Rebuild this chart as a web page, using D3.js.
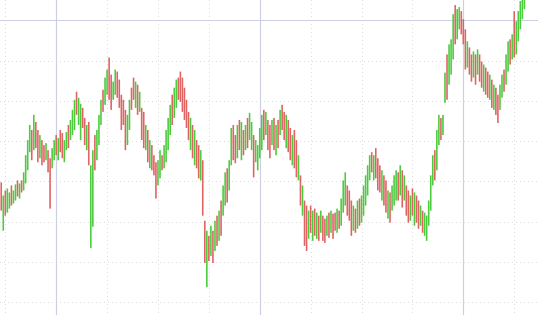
<!DOCTYPE html>
<html>
<head>
<meta charset="utf-8">
<script src="https://cdn.jsdelivr.net/npm/d3@7"></script>
<style>
  html, body { margin: 0; padding: 0; background: #fff; }
  svg { display: block; }
</style>
</head>
<body>
<svg id="chart"></svg>
<script>
// bar highs / lows, one per session
const highs = [
  1119,1106,1111,1113,1109,1116,1111,1117,1121,1118,
  1121,1129,1146,1161,1176,1171,1186,1179,1171,1166,
  1161,1156,1158,1151,1143,1153,1161,1166,1163,1171,
  1168,1161,1169,1176,1181,1191,1201,1209,1203,1197,
  1193,1183,1176,1179,1136,1151,1166,1171,1186,1201,
  1211,1223,1231,1243,1226,1219,1231,1229,1221,1206,
  1201,1191,1186,1201,1213,1223,1219,1216,1209,1193,
  1189,1176,1171,1161,1156,1146,1139,1141,1151,1146,
  1156,1171,1183,1196,1206,1213,1221,1223,1229,1223,
  1213,1201,1189,1183,1176,1171,1161,1156,1151,1141,
  1081,1071,1066,1076,1071,1081,1086,1091,1101,1116,
  1129,1133,1141,1173,1176,1166,1176,1181,1179,1171,
  1176,1183,1188,1179,1166,1161,1156,1173,1186,1191,
  1189,1181,1176,1181,1183,1176,1181,1191,1196,1189,
  1186,1181,1173,1166,1171,1161,1146,1126,1116,1101,
  1096,1091,1096,1091,1093,1089,1086,1091,1086,1083,
  1086,1089,1091,1088,1089,1093,1091,1103,1121,1129,
  1116,1111,1101,1096,1093,1101,1103,1106,1116,1126,
  1136,1146,1149,1146,1153,1143,1136,1131,1126,1121,
  1111,1109,1116,1126,1131,1129,1136,1131,1126,1116,
  1111,1106,1113,1109,1106,1101,1096,1091,1089,1086,
  1101,1126,1146,1151,1171,1186,1183,1186,1228,1246,
  1256,1261,1286,1295,1291,1293,1289,1281,1271,1259,
  1253,1246,1249,1246,1251,1246,1239,1236,1233,1229,
  1226,1221,1216,1213,1206,1216,1226,1231,1246,1259,
  1261,1266,1289,1279,1289,1299,1303,1309
];
const lows = [
  1091,1071,1086,1089,1093,1096,1098,1101,1105,1103,
  1109,1111,1118,1131,1149,1141,1151,1153,1139,1143,
  1136,1139,1141,1129,1093,1133,1141,1146,1141,1149,
  1143,1139,1151,1153,1161,1166,1171,1186,1176,1161,
  1173,1156,1151,1136,1054,1075,1131,1141,1156,1176,
  1189,1196,1206,1201,1191,1201,1206,1203,1193,1171,
  1176,1151,1156,1171,1191,1201,1193,1186,1189,1161,
  1153,1151,1139,1133,1131,1126,1103,1116,1123,1131,
  1133,1139,1151,1166,1176,1183,1193,1201,1199,1189,
  1181,1173,1161,1151,1143,1136,1133,1123,1121,1086,
  1039,1015,1041,1046,1039,1051,1056,1061,1066,1086,
  1096,1099,1111,1136,1141,1138,1143,1151,1141,1146,
  1151,1153,1161,1151,1124,1139,1131,1143,1151,1161,
  1166,1151,1143,1156,1151,1146,1153,1166,1171,1161,
  1153,1149,1141,1136,1133,1124,1121,1096,1086,1056,
  1051,1063,1069,1061,1066,1063,1061,1069,1061,1059,
  1066,1064,1069,1063,1071,1069,1073,1076,1089,1096,
  1086,1081,1066,1071,1069,1073,1076,1079,1086,1096,
  1106,1121,1129,1121,1123,1111,1109,1101,1096,1089,
  1083,1079,1091,1096,1101,1101,1106,1094,1101,1086,
  1079,1081,1086,1076,1079,1073,1076,1069,1066,1061,
  1076,1091,1116,1121,1131,1156,1161,1166,1198,1201,
  1216,1226,1241,1256,1261,1271,1266,1256,1231,1233,
  1226,1219,1223,1216,1226,1219,1213,1209,1206,1203,
  1201,1193,1191,1186,1178,1191,1203,1209,1216,1229,
  1236,1241,1243,1246,1259,1271,1281,1291
];
// U = closed up, D = closed down
const dirs =
  "DUDUUDUUDU" + "DUUUUDUDDU" + "DDUDDUUDUD" + "DUUDUUUDUU" + "DDUDUUDUUU" +
  "DUUDDUUDDD" + "DDUUDDUDUD" + "DUDUDDDUUD" + "UUUUDUUDDD" + "DDDUDUDDUD" +
  "DUDUDUDUDU" + "UDUUDDUDUD" + "UDUUDUUUUD" + "UDDUDUDUDD" + "UDDUDDUDUD" +
  "DUDUDUDUDD" + "UDUDDUDUUU" + "DDDUDUDUUU" + "UUDUDDDUDD" + "UDUUUDUDUD" +
  "DUDUDDUDUU" + "UUUDUUDUUD" + "UUUDUUDDDU" + "DDUDUDDUDD" + "UDUDDUUDUU" +
  "DUDUUUUU";

// grid levels
const priceLines = [1000, 1040, 1080, 1120, 1160, 1200, 1240, 1280];
const majorPrice = [1280];
const timeLines = [2, 27, 52, 77, 102, 127, 152, 177, 202, 227, 252];
const majorTime = [27, 127, 227];

const width = 538;
const height = 315;

const svg = d3.select("#chart").attr("width", width).attr("height", height);

const data = highs.map((h, i) => ({ i, high: h, low: lows[i], up: dirs[i] === "U" }));

const x = d3.scaleLinear().domain([2, 252]).range([5.3, 514.2]);
const y = d3.scaleLinear().domain([1000, 1280]).range([302.3, 20.2]);

const snap = (v) => Math.round(v) + 0.5;

// dotted grid
const grid = svg.append("g");
grid
  .selectAll("line.h")
  .data(priceLines.filter((p) => !majorPrice.includes(p)))
  .join("line")
  .attr("x1", 0)
  .attr("x2", width)
  .attr("y1", (d) => snap(y(d)))
  .attr("y2", (d) => snap(y(d)))
  .attr("stroke", "#dcdcdc")
  .attr("stroke-dasharray", "1,3");

grid
  .selectAll("line.v")
  .data(timeLines.filter((t) => !majorTime.includes(t)))
  .join("line")
  .attr("y1", 0)
  .attr("y2", height)
  .attr("x1", (d) => snap(x(d)))
  .attr("x2", (d) => snap(x(d)))
  .attr("stroke", "#dcdcdc")
  .attr("stroke-dasharray", "1,3");

// solid major lines
svg
  .append("g")
  .selectAll("line")
  .data(majorPrice)
  .join("line")
  .attr("x1", 0)
  .attr("x2", width)
  .attr("y1", (d) => snap(y(d)))
  .attr("y2", (d) => snap(y(d)))
  .attr("stroke", "#cdd0e2")
  .attr("stroke-width", 1.2);

svg
  .append("g")
  .selectAll("line")
  .data(majorTime)
  .join("line")
  .attr("y1", 0)
  .attr("y2", height)
  .attr("x1", (d) => snap(x(d)))
  .attr("x2", (d) => snap(x(d)))
  .attr("stroke", "#cdd0e2")
  .attr("stroke-width", 1.2);

// bars
svg
  .append("g")
  .selectAll("rect")
  .data(data)
  .join("rect")
  .attr("x", (d) => x(d.i) - 0.8)
  .attr("width", 1.6)
  .attr("y", (d) => y(d.high))
  .attr("height", (d) => y(d.low) - y(d.high))
  .attr("fill", (d) => (d.up ? "#4ccb3e" : "#df6363"));
</script>
</body>
</html>
